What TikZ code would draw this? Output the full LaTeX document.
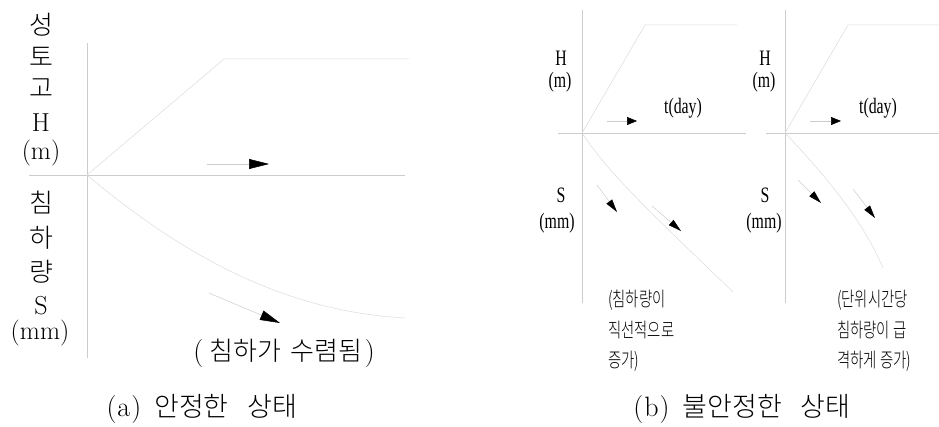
\documentclass[tikz,border=0pt]{standalone}
\usepackage{fontspec}
\IfFontExistsTF{Noto Sans CJK KR Light}{%
  \newfontfamily\kor{Noto Sans CJK KR Light}%
  \newfontfamily\korcond[FakeStretch=0.72]{Noto Sans CJK KR Light}}{%
  \newfontfamily\kor{Noto Sans CJK KR}%
  \newfontfamily\korcond[FakeStretch=0.72]{Noto Sans CJK KR}}
\newfontfamily\sercond[FakeStretch=0.72]{Liberation Serif}
\usetikzlibrary{arrows.meta}

\tikzset{
  axisline/.style={draw=black!20, line width=0.5pt},
  curveline/.style={draw=black!14, line width=0.5pt},
  bigtip/.style={-{Triangle[length=20pt,width=10pt,color=black,fill=black]}, draw=black!20, line width=0.5pt},
  midtip/.style={-{Triangle[length=13pt,width=7pt,color=black,fill=black]}, draw=black!20, line width=0.5pt},
  smalltip/.style={-{Triangle[length=10pt,width=8pt,color=black,fill=black]}, draw=black!20, line width=0.5pt},
  klab/.style={inner sep=0pt, font=\fontsize{26}{26}\selectfont\kor},
  llab/.style={inner sep=0pt, font=\fontsize{26}{26}\selectfont},
  clab/.style={inner sep=0pt, font=\fontsize{22}{22}\selectfont\sercond},
  note/.style={inner sep=0pt, align=left, font=\fontsize{20}{30.5}\selectfont\korcond},
  caption/.style={inner sep=0pt, font=\fontsize{27}{27}\selectfont\kor}
}
\newcommand{\lm}[1]{{\rmfamily\fontsize{28}{28}\selectfont #1}}

\begin{document}
\begin{tikzpicture}[x=1pt,y=-1pt]
\useasboundingbox (0,0) rectangle (939,427);

% (a) stable
\coordinate (oa) at (87,175);
\draw[axisline] (87,43) -- (87,358);
\draw[axisline] (29,175) -- (405,175);
\draw[curveline] (oa) -- (224,59) -- (409,59);
\draw[curveline] (oa) .. controls (200,270) and (300,312) .. (405,318);
\draw[bigtip] (207,164) -- (269,164);
\draw[bigtip] (209,293) -- (280,323);

\foreach \t/\y in {성/25,토/57,고/88,침/203,하/238,량/272}
  \node[klab] (v\y) at (41,\y) {\t};
\node[llab] (ha) at (41,123) {H};
\node[llab] (ma) at (41,153) {(m)};
\node[llab] (sa) at (41,306) {S};
\node[llab] (mma) at (40,333) {(mm)};
\node[caption, font=\fontsize{26}{26}\selectfont\kor] (conv) at (284,353)
  {\lm{(}\hspace{6pt}침하가\hspace{10pt}수렴됨\hspace{2pt}\lm{)}};
\node[caption] (capa) at (202,409) {\lm{(\kern1pt a\kern1pt)}\hspace{13pt}안정한\hspace{19pt}상태};

% (b) unstable, linear
\coordinate (ob) at (582,133);
\draw[axisline] (582,10) -- (582,303);
\draw[axisline] (558,133) -- (746,133);
\draw[curveline] (ob) -- (645,25) -- (737,25);
\draw[curveline] (ob) .. controls (610,175) and (650,212) .. (733,292);
\draw[smalltip] (607,121) -- (637,121);
\draw[midtip] (597,185) -- (617,212);
\draw[midtip] (652,206) -- (681,231);
\node[clab] (hb) at (561,58) {H};
\node[clab] (mb) at (560,82) {(m)};
\node[clab] (tb) at (683,108) {t(day)};
\node[clab] (sb) at (561,195) {S};
\node[clab] (mmb) at (557,223) {(mm)};
\node[note, anchor=west] (linb) at (608,331) {(침하량이\\직선적으로\\증가)};

% (b) unstable, rapid
\coordinate (oc) at (785,133);
\draw[axisline] (785,10) -- (785,303);
\draw[axisline] (766,133) -- (939,133);
\draw[curveline] (oc) -- (848,25) -- (939,25);
\draw[curveline] (oc) .. controls (830,180) and (865,225) .. (883,268);
\draw[smalltip] (810,121) -- (841,121);
\draw[midtip] (798,180) -- (821,203);
\draw[midtip] (853,189) -- (875,218);
\node[clab] (hc) at (765,58) {H};
\node[clab] (mc) at (764,82) {(m)};
\node[clab] (tc) at (878,108) {t(day)};
\node[clab] (sc) at (765,195) {S};
\node[clab] (mmc) at (764,223) {(mm)};
\node[note, anchor=west] (rapc) at (837,331) {(단위시간당\\침하량이 급\\격하게 증가)};
\node[caption] (capb) at (742,409) {\lm{(\kern1pt b\kern1pt)}\hspace{13pt}불안정한\hspace{19pt}상태};
\end{tikzpicture}
\end{document}
